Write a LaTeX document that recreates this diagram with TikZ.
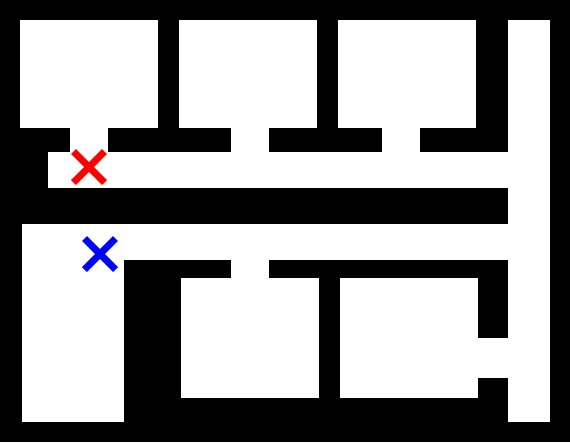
\documentclass[tikz,border=0pt]{standalone}
\begin{document}
\begin{tikzpicture}[x=1pt,y=-1pt,
  floor/.style={fill=white,draw=none},
  crossline/.style={line width=7pt,line cap=butt}]
\useasboundingbox (0,0) rectangle (570,442);
\fill[black] (0,0) rectangle (570,442);
% upper rooms
\fill[floor] (20,20) rectangle (158,128);
\fill[floor] (179,20) rectangle (317,128);
\fill[floor] (338,20) rectangle (476,128);
% upper doors
\fill[floor] (70,128) rectangle (108,152);
\fill[floor] (231,128) rectangle (269,152);
\fill[floor] (382,128) rectangle (420,152);
% corridors
\fill[floor] (48,152) rectangle (550,188);
\fill[floor] (508,20) rectangle (550,422);
\fill[floor] (22,224) rectangle (550,260);
\fill[floor] (22,224) rectangle (124,422);
% lower rooms and doors
\fill[floor] (231,260) rectangle (269,278);
\fill[floor] (181,278) rectangle (319,398);
\fill[floor] (340,278) rectangle (478,398);
\fill[floor] (478,338) rectangle (508,378);
% markers
\coordinate (redA) at (73.5,151.5);
\coordinate (redB) at (104.5,182.5);
\coordinate (redC) at (104.5,151.5);
\coordinate (redD) at (73.5,182.5);
\coordinate (blueA) at (84.5,238.5);
\coordinate (blueB) at (115.5,269.5);
\coordinate (blueC) at (115.5,238.5);
\coordinate (blueD) at (84.5,269.5);
\draw[crossline,red] (redA) -- (redB);
\draw[crossline,red] (redC) -- (redD);
\draw[crossline,blue] (blueA) -- (blueB);
\draw[crossline,blue] (blueC) -- (blueD);
\end{tikzpicture}
\end{document}
